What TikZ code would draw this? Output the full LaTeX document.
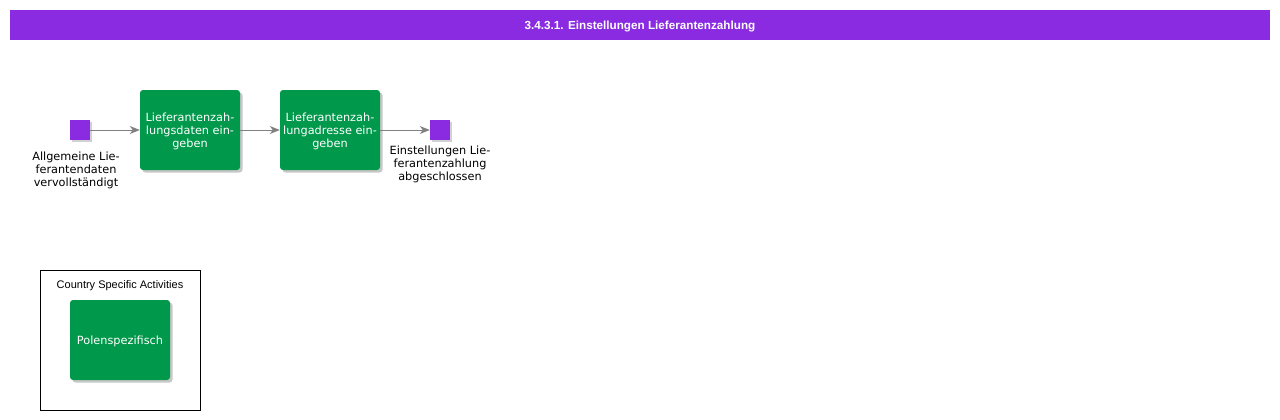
\documentclass[tikz,border=0pt]{standalone}
\usepackage{fontspec}
\setmainfont{DejaVu Sans}
\newfontfamily\arialfont{Liberation Sans}
\usetikzlibrary{arrows.meta}
\usetikzlibrary{shadows}
\definecolor{evpurple}{HTML}{8A2BE2}
\definecolor{taskgreen}{HTML}{00984A}

\begin{document}
\begin{tikzpicture}[x=1pt, y=-1pt,
    every node/.append style={inner sep=0pt, font=\fontsize{11.3}{13}\selectfont},
    task/.style={rectangle, rounded corners=3pt, fill=taskgreen, text=white,
      minimum width=100pt, minimum height=80pt, align=center,
      drop shadow={shadow xshift=2.5pt, shadow yshift=-2.5pt, fill=black!22, opacity=1}},
    event/.style={rectangle, fill=evpurple, minimum width=20pt, minimum height=20pt,
      drop shadow={shadow xshift=2pt, shadow yshift=-2pt, fill=black!18, opacity=1}},
    evlabel/.style={align=center, anchor=north},
    flow/.style={draw=gray, line width=1pt, -{Stealth[length=10pt, width=8pt, inset=3pt]}}]
  \useasboundingbox (0, 0) rectangle (1280, 420);
  % title bar
  \fill[evpurple] (10, 10) rectangle (1270, 40);
  \node[text=white, font=\arialfont\bfseries\fontsize{11.7}{13}\selectfont] (title) at (640, 26.5) {3.4.3.1. Einstellungen Lieferantenzahlung};
  % process
  \coordinate (S) at (80, 130);
  \coordinate (T1) at (190, 130);
  \coordinate (T2) at (330, 130);
  \coordinate (E) at (440, 130);
  \node[event] (start) at (S) {};
  \node[task, text depth=0pt] (daten) at (T1) {Lieferantenzah-\\lungsdaten ein-\\geben};
  \node[task, text depth=0pt] (adresse) at (T2) {Lieferantenzah-\\lungadresse ein-\\geben};
  \node[event] (end) at (E) {};
  \node[evlabel] (startlabel) at (76, 152) {Allgemeine Lie-\\ferantendaten\\vervollständigt};
  \node[evlabel] (endlabel) at (440, 146) {Einstellungen Lie-\\ferantenzahlung\\abgeschlossen};
  \draw[flow] (start) -- (daten);
  \draw[flow] (daten) -- (adresse);
  \draw[flow] (adresse) -- (end);
  % country specific
  \draw[black, line width=0.8pt] (40.5, 270.5) rectangle (200.5, 410.5);
  \node[font=\arialfont\fontsize{11}{13}\selectfont] (csa) at (120, 286) {Country Specific Activities};
  \node[task, text depth=0pt] (polen) at (120, 340) {Polenspezifisch};
\end{tikzpicture}
\end{document}
